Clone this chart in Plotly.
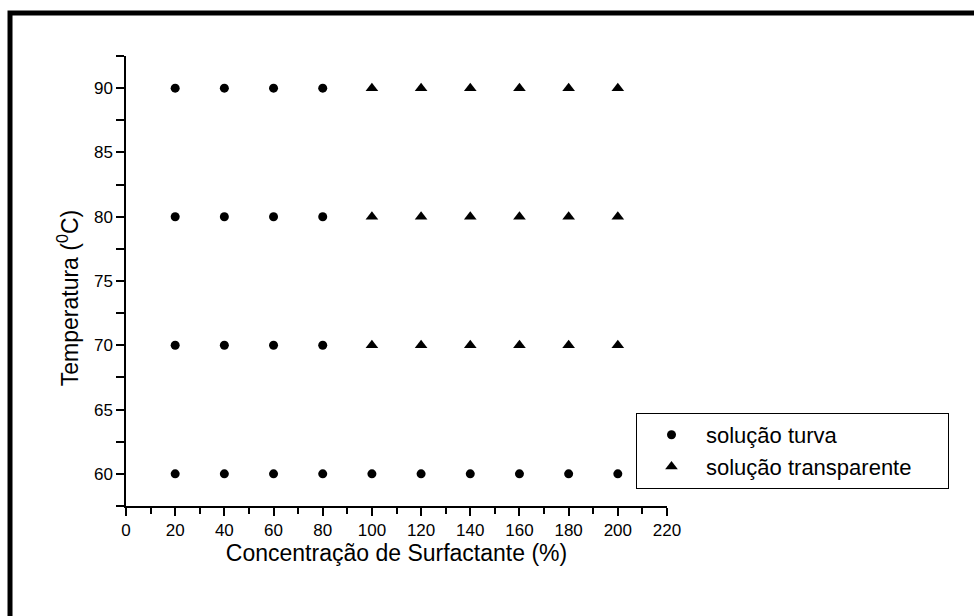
import plotly.graph_objects as go

# Surfactant concentration (%) and temperature (°C) for each observed state
turva_conc = [20, 40, 60, 80, 100, 120, 140, 160, 180, 200,
              20, 40, 60, 80,
              20, 40, 60, 80,
              20, 40, 60, 80]
turva_temp = [60, 60, 60, 60, 60, 60, 60, 60, 60, 60,
              70, 70, 70, 70,
              80, 80, 80, 80,
              90, 90, 90, 90]

transp_conc = [100, 120, 140, 160, 180, 200,
               100, 120, 140, 160, 180, 200,
               100, 120, 140, 160, 180, 200]
transp_temp = [70, 70, 70, 70, 70, 70,
               80, 80, 80, 80, 80, 80,
               90, 90, 90, 90, 90, 90]

FONT = "Liberation Sans, Arial, sans-serif"
PAD = "\u00a0" * 5  # extra room on the right of the legend labels

fig = go.Figure()
fig.add_trace(go.Scatter(
    x=turva_conc, y=turva_temp, mode="markers", name="solução turva" + PAD,
    marker=dict(symbol="circle", size=9, color="black"),
))
fig.add_trace(go.Scatter(
    x=transp_conc, y=transp_temp, mode="markers", name="solução transparente" + PAD,
    marker=dict(symbol="triangle-up", size=11, color="black"),
))

axis_common = dict(
    showline=True, linecolor="black", linewidth=1.5,
    ticks="outside", tickcolor="black", tickwidth=1.5, ticklen=8,
    showgrid=False, zeroline=False, mirror=False,
    tickfont=dict(family=FONT, size=17, color="black"),
)

fig.update_xaxes(
    range=[0, 220], tick0=0, dtick=20,
    minor=dict(dtick=10, ticks="outside", ticklen=6, tickcolor="black", tickwidth=1.5),
    title=dict(text="Concentração de Surfactante (%)",
               font=dict(family=FONT, size=23, color="black"), standoff=4),
    **axis_common,
)
fig.update_yaxes(
    range=[57.5, 92.5], tick0=60, dtick=5,
    minor=dict(tick0=57.5, dtick=2.5, ticks="outside", ticklen=8, tickcolor="black", tickwidth=1.5),
    **axis_common,
)

# Y-axis title, set slightly below the middle of the axis
fig.add_annotation(
    text="Temperatura (<sup>0</sup>C)", textangle=-90,
    xref="paper", yref="paper", x=-0.107, y=0.462,
    xanchor="center", yanchor="middle", showarrow=False,
    font=dict(family=FONT, size=23, color="black"),
)

# Thick frame around the figure (only its top and left sides fall inside the page)
fig.add_shape(type="rect", xref="paper", yref="paper",
              x0=-0.2144, x1=2.0, y0=-2.0, y1=1.0956,
              line=dict(color="black", width=5), fillcolor="rgba(0,0,0,0)", layer="above")

fig.update_layout(
    width=974, height=616,
    margin=dict(l=126, r=307, t=56, b=110),
    paper_bgcolor="white", plot_bgcolor="white",
    font=dict(family=FONT, color="black"),
    legend=dict(
        x=0.9427, y=0.2067, xanchor="left", yanchor="top",
        bordercolor="black", borderwidth=1, bgcolor="white",
        font=dict(family=FONT, size=22, color="black"),
        itemwidth=59,
    ),
    showlegend=True,
)

fig.write_html("out.html")
